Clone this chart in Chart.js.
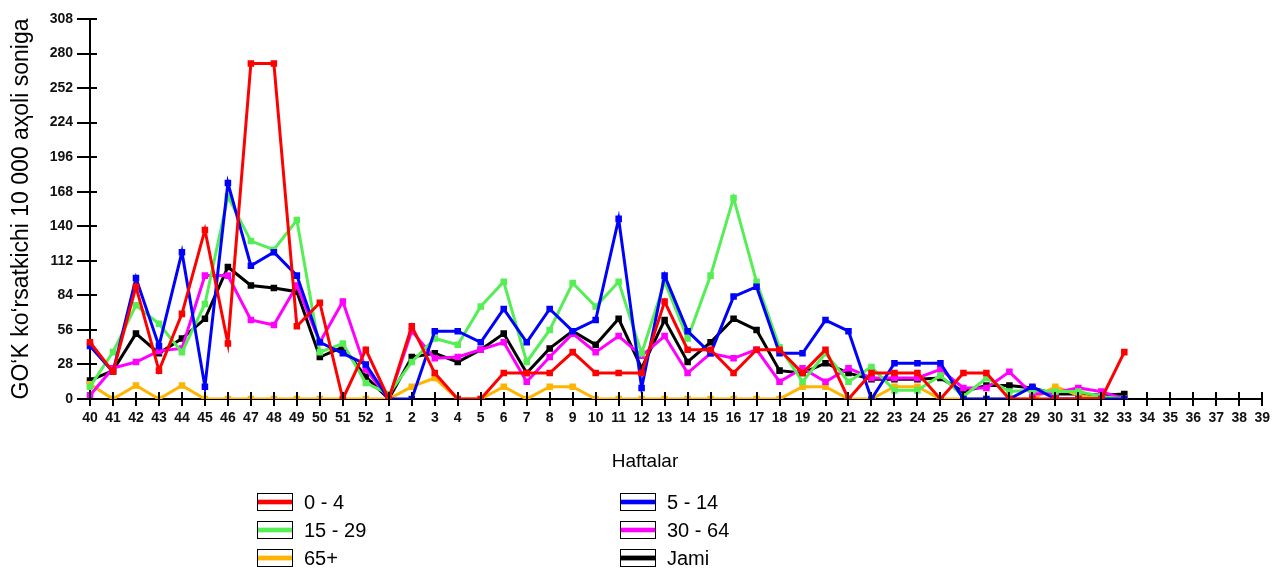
<!DOCTYPE html>
<html>
<head>
<meta charset="utf-8">
<script src="https://cdn.jsdelivr.net/npm/chart.js@4.4.1/dist/chart.umd.min.js"></script>
<style>
  body { margin: 0; background: #fff; font-family: 'Liberation Sans', Arial, sans-serif; }
  #wrap { position: relative; width: 1274px; height: 570px; }
  #xTitle { position: absolute; left: 560px; top: 450px; width: 170px; text-align: center; font-size: 19px; color: #000; }
  .leg { position: absolute; font-size: 20px; color: #000; display: flex; align-items: center; height: 20px; }
  .sw { width: 34px; height: 16px; border: 1.5px solid #000; margin-right: 11px; background: #fff; }
</style>
</head>
<body>
<div id="wrap">
  <canvas id="chart" width="1274" height="570"></canvas>
  <div id="xTitle">Haftalar</div>
  <div id="legend"></div>
</div>
<script>
const weeks = ['40','41','42','43','44','45','46','47','48','49','50','51','52',
  '1','2','3','4','5','6','7','8','9','10','11','12','13','14','15','16','17','18','19','20',
  '21','22','23','24','25','26','27','28','29','30','31','32','33','34','35','36','37','38','39'];

// weeks 40..52, then 1..33 (34-39 no data yet)
const age0_4 = [46,22,91,23,69,137,45,272,272,59,78,0,40,
  0,59,21,0,0,21,21,21,38,21,21,21,79,40,40,21,40,40,21,40,0,21,21,21,0,21,21,0,0,0,0,0,38];
const age5_14 = [43,22,98,43,119,10,175,108,119,100,46,37,28,
  0,0,55,55,46,73,46,73,55,64,146,9,100,55,37,83,91,37,37,64,55,0,29,29,29,0,0,0,10,0,0,0,0];
const age15_29 = [10,38,76,61,38,77,164,128,121,145,38,45,13,
  4,30,49,44,75,95,30,56,94,75,95,37,95,49,100,163,95,42,14,37,14,26,7,7,19,2,17,6,7,6,6,2,0];
const age30_64 = [3,25,30,39,41,100,100,64,60,92,46,79,24,
  0,55,33,34,40,46,14,34,53,38,51,35,51,21,37,33,40,14,25,14,25,17,17,17,24,9,9,22,4,5,9,6,0];
const age65 = [12,0,11,0,11,0,0,0,0,0,0,0,0,
  0,10,17,0,0,10,0,10,10,0,0,0,0,0,0,0,0,0,10,10,0,0,10,10,0,0,0,0,0,10,3,0,0];
const jami = [15,23,53,37,49,65,107,92,90,87,34,42,18,
  0,34,37,30,40,53,21,41,55,44,65,25,64,30,46,65,56,23,21,29,21,16,16,16,17,6,11,11,9,4,4,3,4];

const yTicks = [0,28,56,84,112,140,168,196,224,252,280,308];

const series = [
  { label: '0 - 4', data: age0_4, color: '#ff0000', halo: '#ffb3b3' },
  { label: '5 - 14', data: age5_14, color: '#0000ff', halo: '#b3b3ff' },
  { label: '15 - 29', data: age15_29, color: '#55ee55', halo: '#c6f7c6' },
  { label: '30 - 64', data: age30_64, color: '#ff00ff', halo: '#ffb3ff' },
  { label: '65+', data: age65, color: '#ffb400', halo: '#ffe3a6' },
  { label: 'Jami', data: jami, color: '#000000', halo: '#9a9a9a' }
];

const crossTicks = {
  id: 'crossTicks',
  afterDraw(chart) {
    const { ctx, chartArea, scales: { x, y } } = chart;
    ctx.save();
    ctx.strokeStyle = '#000';
    ctx.lineWidth = 2;
    ctx.beginPath();
    y.ticks.forEach((t, i) => {
      const py = Math.round(y.getPixelForTick(i));
      ctx.moveTo(chartArea.left - 13, py);
      ctx.lineTo(chartArea.left + 7, py);
    });
    x.ticks.forEach((t, i) => {
      const px = Math.round(x.getPixelForTick(i));
      ctx.moveTo(px, chartArea.bottom - 7);
      ctx.lineTo(px, chartArea.bottom + 7);
    });
    ctx.stroke();
    ctx.restore();
  }
};

const tickFont = { family: "'Liberation Sans', Arial, sans-serif", size: 14, weight: 'bold' };

new Chart(document.getElementById('chart'), {
  type: 'line',
  data: {
    labels: weeks,
    datasets: series.map(s => ({
      label: s.label,
      data: s.data,
      borderColor: s.color,
      backgroundColor: s.color,
      borderWidth: 3,
      pointStyle: 'rect',
      pointRadius: 2.5,
      pointHoverRadius: 2.5,
      tension: 0,
      fill: false
    }))
  },
  options: {
    responsive: false,
    animation: false,
    devicePixelRatio: 1,
    layout: { padding: { top: 19, right: 9, left: 0, bottom: 0 } },
    plugins: { legend: { display: false }, tooltip: { enabled: false } },
    scales: {
      x: {
        offset: false,
        grid: { display: false, drawTicks: true, tickLength: 7 },
        border: { display: true, color: '#000', width: 2 },
        ticks: { autoSkip: false, maxRotation: 0, minRotation: 0, padding: 4, color: '#111', font: tickFont },
        afterFit: s => { s.height = 171; }
      },
      y: {
        min: 0,
        max: 308,
        afterBuildTicks: s => { s.ticks = yTicks.map(v => ({ value: v })); },
        grid: { display: false, drawTicks: true, tickLength: 13 },
        border: { display: true, color: '#000', width: 2 },
        ticks: { padding: 4, color: '#111', font: tickFont },
        title: {
          display: true,
          text: 'GO‘K ko‘rsatkichi 10 000 aҳoli soniga',
          color: '#000',
          font: { family: "'Liberation Sans', Arial, sans-serif", size: 23 },
          padding: { top: 8, bottom: 0 }
        },
        afterFit: s => { s.width = 90; }
      }
    }
  },
  plugins: [crossTicks]
});

// legend in two columns, like the reference
const legend = document.getElementById('legend');
const legPos = [[257, 492], [620, 492], [257, 520], [620, 520], [257, 548], [620, 548]];
series.forEach((s, k) => {
  const d = document.createElement('div');
  d.className = 'leg';
  d.style.left = legPos[k][0] + 'px';
  d.style.top = legPos[k][1] + 'px';
  const sw = document.createElement('span');
  sw.className = 'sw';
  sw.style.background = `linear-gradient(to bottom, #fff 0, #fff 5px, ${s.halo} 5px, ${s.halo} 6px, ${s.color} 6px, ${s.color} 10px, ${s.halo} 10px, ${s.halo} 11px, #fff 11px)`;
  const t = document.createElement('span');
  t.textContent = s.label;
  d.appendChild(sw);
  d.appendChild(t);
  legend.appendChild(d);
});
</script>
</body>
</html>
